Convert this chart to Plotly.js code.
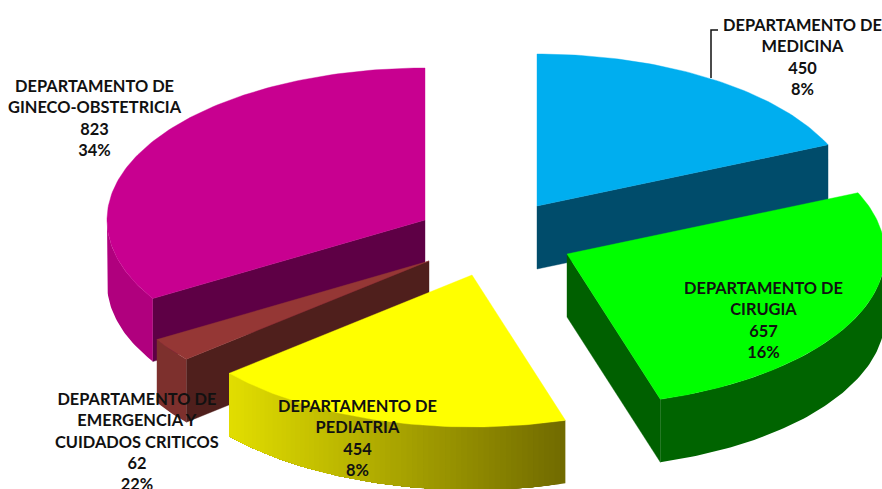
<!DOCTYPE html>
<html>
<head>
<meta charset="utf-8">
<script src="https://cdn.plot.ly/plotly-3.0.1.min.js"></script>
<style>html,body{margin:0;padding:0;background:#fff;overflow:hidden}#chart{width:882px;height:489px}</style>
</head>
<body>
<div id="chart"></div>
<script>
// --- Data ---
const categories = [
  "DEPARTAMENTO DE<br>MEDICINA",
  "DEPARTAMENTO DE<br>CIRUGIA",
  "DEPARTAMENTO DE<br>PEDIATRIA",
  "DEPARTAMENTO DE<br>EMERGENCIA Y<br>CUIDADOS CRITICOS",
  "DEPARTAMENTO DE<br>GINECO-OBSTETRICIA"
];
const values = [450, 657, 454, 62, 823];
const percentLabels = ["8%", "16%", "8%", "22%", "34%"];

// --- Styles ---
const topColors  = ["#00AEEF", "#00FF00", "#FFFF00", "#953735", "#C80090"];
const wallColors = ["#004C6B", "#006000", "#6E6800", "#4F1F1C", "#5E0045"];
const rimLeft    = [[0,76,107], [0,100,0], [226,222,0], [125,48,45], [176,0,126]];
const rimRight   = [[0,76,107], [0,100,0], [112,106,0], [125,48,45], [176,0,126]];

// --- Layout of the projected pie ---
const RX = 318, RY = 152, DEPTH = 63;
const centers = [[537,206],[567,254],[472,275],[429,261],[425,220]];
const labelPos = [[802,56.5],[763,319.5],[357,437.5],[137,441],[95,117.5]];
const leaderX = [718,711,711], leaderY = [30,30,78];
const drawOrder = [4,0,3,1,2];

const rad = d => d*Math.PI/180;
const px = (c,a) => c[0] + RX*Math.sin(rad(a));
const py = (c,a) => c[1] - RY*Math.cos(rad(a));
const total = values.reduce((s,v)=>s+v,0);
let acc = 0;
const spans = values.map(v => { const s = acc/total*360; acc += v; return [s, acc/total*360]; });

function poly(xs, ys, color, lineWidth){
  return {type:"scatter", mode:"lines", x:xs, y:ys, fill:"toself", fillcolor:color,
          line:{color:color,width:lineWidth}, hoverinfo:"skip", showlegend:false};
}
function arc(c,a0,a1,dy){
  const n = Math.max(2, Math.ceil(Math.abs(a1-a0)/1)), xs=[], ys=[];
  for(let i=0;i<=n;i++){ const a=a0+(a1-a0)*i/n; xs.push(px(c,a)); ys.push(py(c,a)+dy); }
  return [xs,ys];
}
function wall(c,a,color){
  return poly([c[0],px(c,a),px(c,a),c[0],c[0]],
              [c[1],py(c,a),py(c,a)+DEPTH,c[1]+DEPTH,c[1]], color, 0.4);
}

const traces = [{type:"scatter", mode:"lines", x:leaderX, y:leaderY,
                 line:{color:"#111",width:1.5}, hoverinfo:"skip", showlegend:false}];

drawOrder.forEach(i => {
  const [a0,a1] = spans[i], c = centers[i];
  if(a0 > 180 && a0 < 360) traces.push(wall(c,a0,wallColors[i]));
  if(a1 > 0 && a1 < 180)   traces.push(wall(c,a1,wallColors[i]));
  const r0 = Math.max(a0,90), r1 = Math.min(a1,270);
  if(r1 > r0){
    const xA = Math.min(px(c,r0),px(c,r1)), xB = Math.max(px(c,r0),px(c,r1));
    const uniform = rimLeft[i].every((v,j)=>v===rimRight[i][j]);
    const n = uniform ? 1 : Math.ceil((r1-r0)/1);
    for(let k=0;k<n;k++){
      // each band runs on to the rim's far end, so the next band paints over it without a seam
      const s0=r0+(r1-r0)*k/n, s1=r0+(r1-r0)*(k+1)/n;
      const [tx,ty]=arc(c,s0,r1,0), [bx,by]=arc(c,r1,s0,DEPTH);
      const t=(((px(c,s0)+px(c,s1))/2)-xA)/(xB-xA||1);
      const col=rimLeft[i].map((v,j)=>Math.round(v+(rimRight[i][j]-v)*t));
      traces.push(poly(tx.concat(bx,[tx[0]]), ty.concat(by,[ty[0]]), `rgb(${col.join(",")})`, 0));
    }
  }
  const [ax,ay]=arc(c,a0,a1,0);
  traces.push(poly([c[0]].concat(ax,[c[0]]), [c[1]].concat(ay,[c[1]]), topColors[i], 0.4));
});

const annotations = categories.map((name,i)=>({
  xref:"x", yref:"y", x:labelPos[i][0], y:labelPos[i][1],
  xanchor:"center", yanchor:"middle", align:"center", showarrow:false,
  text:`<b>${name}<br>${values[i]}<br>${percentLabels[i]}</b>`,
  font:{family:"Lato, Carlito, sans-serif", size:16.4, color:"#111"}
}));

Plotly.newPlot("chart", traces, {
  width:882, height:489, margin:{l:0,r:0,t:0,b:0,pad:0},
  paper_bgcolor:"#fff", plot_bgcolor:"#fff", showlegend:false,
  xaxis:{visible:false, range:[0,882], fixedrange:true},
  yaxis:{visible:false, range:[489,0], fixedrange:true},
  annotations
}, {displayModeBar:false, staticPlot:true});
</script>
</body>
</html>
